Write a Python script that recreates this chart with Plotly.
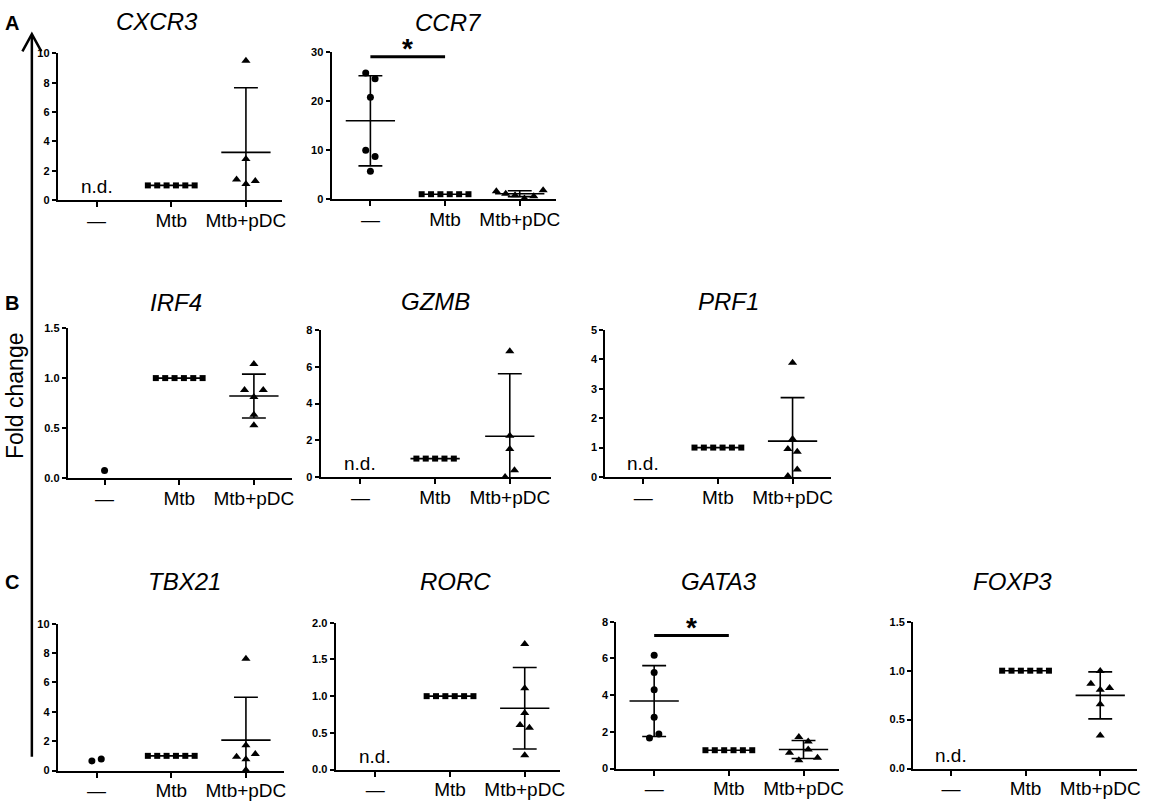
import plotly.graph_objects as go

W, H = 1158, 812
FONT = "Liberation Sans, Arial, sans-serif"

# -------------------- data -------------------- #
groups = ["—", "Mtb", "Mtb+pDC"]
genes = ["CXCR3", "CCR7", "IRF4", "GZMB", "PRF1", "TBX21", "RORC", "GATA3", "FOXP3"]
y_max = [10, 30, 1.5, 8, 5, 10, 2, 8, 1.5]
y_step = [2, 10, 0.5, 2, 1, 2, 0.5, 2, 0.5]

cxcr3_ctrl = []
cxcr3_mtb = [1.0, 1.0, 1.0, 1.0, 1.0, 1.0]
cxcr3_pdc = [9.5, 2.8, 1.4, 1.1, 1.3]
cxcr3_mean = [None, 1.0, 3.25]
cxcr3_sd = [None, 0.0, 4.4]

ccr7_ctrl = [25.75, 24.6, 20.8, 10.0, 8.7, 5.7]
ccr7_mtb = [1.0, 1.0, 1.0, 1.0, 1.0, 1.0]
ccr7_pdc = [1.6, 1.1, 0.8, 0.1, 0.6, 1.8]
ccr7_mean = [16.0, 1.0, 1.1]
ccr7_sd = [9.2, 0.0, 0.6]

irf4_ctrl = [0.075]
irf4_mtb = [1.0, 1.0, 1.0, 1.0, 1.0, 1.0]
irf4_pdc = [1.14, 0.88, 0.81, 0.88, 0.632, 0.527]
irf4_mean = [None, 1.0, 0.82]
irf4_sd = [None, 0.0, 0.22]

gzmb_ctrl = []
gzmb_mtb = [1.0, 1.0, 1.0, 1.0, 1.0]
gzmb_pdc = [6.85, 2.24, 1.52, 0.0, 0.36]
gzmb_mean = [None, 1.0, 2.22]
gzmb_sd = [None, 0.0, 3.4]

prf1_ctrl = []
prf1_mtb = [1.0, 1.0, 1.0, 1.0, 1.0, 1.0]
prf1_pdc = [3.89, 1.29, 0.95, 0.86, 0.03, 0.25]
prf1_mean = [None, 1.0, 1.22]
prf1_sd = [None, 0.0, 1.48]

tbx21_ctrl = [0.65, 0.79]
tbx21_mtb = [1.0, 1.0, 1.0, 1.0, 1.0, 1.0]
tbx21_pdc = [7.62, 1.72, 0.94, 0.76, 1.12, 0.04]
tbx21_mean = [None, 1.0, 2.07]
tbx21_sd = [None, 0.0, 2.92]

rorc_ctrl = []
rorc_mtb = [1.0, 1.0, 1.0, 1.0, 1.0, 1.0]
rorc_pdc = [1.71, 1.107, 0.77, 0.607, 0.571, 0.196]
rorc_mean = [None, 1.0, 0.835]
rorc_sd = [None, 0.0, 0.555]

gata3_ctrl = [6.17, 5.24, 4.29, 2.79, 1.66, 1.88]
gata3_mtb = [1.0, 1.0, 1.0, 1.0, 1.0, 1.0]
gata3_pdc = [1.72, 1.48, 0.86, 0.45, 1.04, 0.59]
gata3_mean = [3.68, 1.0, 1.04]
gata3_sd = [1.93, 0.0, 0.49]

foxp3_ctrl = []
foxp3_mtb = [1.0, 1.0, 1.0, 1.0, 1.0, 1.0]
foxp3_pdc = [0.997, 0.866, 0.805, 0.822, 0.658, 0.339]
foxp3_mean = [None, 1.0, 0.748]
foxp3_sd = [None, 0.0, 0.24]

# significance bars (gene, from group, to group, height)
sig_genes = ["CCR7", "GATA3"]
sig_from = [0, 0]
sig_to = [1, 1]
sig_y = [29.1, 7.25]

panel_data = [
    (cxcr3_ctrl, cxcr3_mtb, cxcr3_pdc, cxcr3_mean, cxcr3_sd),
    (ccr7_ctrl, ccr7_mtb, ccr7_pdc, ccr7_mean, ccr7_sd),
    (irf4_ctrl, irf4_mtb, irf4_pdc, irf4_mean, irf4_sd),
    (gzmb_ctrl, gzmb_mtb, gzmb_pdc, gzmb_mean, gzmb_sd),
    (prf1_ctrl, prf1_mtb, prf1_pdc, prf1_mean, prf1_sd),
    (tbx21_ctrl, tbx21_mtb, tbx21_pdc, tbx21_mean, tbx21_sd),
    (rorc_ctrl, rorc_mtb, rorc_pdc, rorc_mean, rorc_sd),
    (gata3_ctrl, gata3_mtb, gata3_pdc, gata3_mean, gata3_sd),
    (foxp3_ctrl, foxp3_mtb, foxp3_pdc, foxp3_mean, foxp3_sd),
]

# -------------------- layout geometry (pixels) -------------------- #
# y-axis x, first category x, x-axis end, top of y axis, y=0
panel_px = [
    (58, 97, 283, 48, 197),
    (333, 372, 558, 47, 196),
    (68, 105, 293, 327, 479),
    (322, 362, 553, 329, 478),
    (608, 646, 835, 329, 478),
    (58, 97, 285, 627, 776),
    (337, 377, 562, 626, 775),
    (619, 657, 843, 625, 774),
    (917, 955, 1142, 625, 774),
]
title_px = [(158, 16), (450, 17), (177, 301), (437, 300), (732, 300),
            (185, 584), (457, 584), (722, 584), (1017, 584)]
CAT_PX = 75.0
SYMBOLS = [("circle", 7), ("square", 6), ("triangle-up", 8)]


def swarm(vals, px_per_unit, gap=8.0, step=9.4 / CAT_PX):
    # GraphPad-like spreading: points closer than `gap` px get side by side
    order = sorted(range(len(vals)), key=lambda i: -vals[i])
    clusters = []
    for i in order:
        if clusters and (vals[clusters[-1][-1]] - vals[i]) * px_per_unit < gap:
            clusters[-1].append(i)
        else:
            clusters.append([i])
    offs = [0.0] * len(vals)
    for c in clusters:
        c = sorted(c)
        n = len(c)
        for k, i in enumerate(c):
            offs[i] = (k - (n - 1) / 2) * step
    return offs


fig = go.Figure()
annotations = []
layout_axes = {}

for k, gene in enumerate(genes):
    n = k + 1
    xa = "x" if n == 1 else f"x{n}"
    ya = "y" if n == 1 else f"y{n}"
    left, c0, right, top, bot = panel_px[k]
    ppu = (bot - top) / y_max[k]
    vals_by_group = panel_data[k][:3]
    means, sds = panel_data[k][3], panel_data[k][4]

    # mean +/- SD
    lx, ly = [], []
    for g in range(3):
        m, s = means[g], sds[g]
        if m is None:
            continue
        lx += [g - 0.33, g + 0.33, None]
        ly += [m, m, None]
        if s > 0:
            lx += [g, g, None, g - 0.16, g + 0.16, None, g - 0.16, g + 0.16, None]
            ly += [m - s, m + s, None, m + s, m + s, None, m - s, m - s, None]
    fig.add_trace(go.Scatter(x=lx, y=ly, mode="lines", xaxis=xa, yaxis=ya,
                             line=dict(color="black", width=1.6),
                             showlegend=False, hoverinfo="skip"))

    # points
    for g in range(3):
        vals = vals_by_group[g]
        if not vals:
            annotations.append(dict(x=g, y=0, xref=xa, yref=ya, text="n.d.",
                                    showarrow=False, yanchor="bottom", yshift=1,
                                    font=dict(size=19, family=FONT, color="black")))
            continue
        offs = swarm(vals, ppu)
        sym, size = SYMBOLS[g]
        fig.add_trace(go.Scatter(
            x=[g + o for o in offs], y=vals, mode="markers", xaxis=xa, yaxis=ya,
            marker=dict(symbol=sym, size=size, color="black", line=dict(width=0)),
            cliponaxis=False, showlegend=False, name=groups[g]))

    # significance
    if gene in sig_genes:
        j = sig_genes.index(gene)
        fig.add_trace(go.Scatter(x=[sig_from[j], sig_to[j]], y=[sig_y[j], sig_y[j]],
                                 mode="lines", xaxis=xa, yaxis=ya, cliponaxis=False,
                                 line=dict(color="black", width=3),
                                 showlegend=False, hoverinfo="skip"))
        annotations.append(dict(x=(sig_from[j] + sig_to[j]) / 2, y=sig_y[j],
                                xref=xa, yref=ya, text="<b>*</b>", showarrow=False,
                                yanchor="bottom", yshift=-9,
                                font=dict(size=28, family=FONT, color="black")))

    # title
    tx, ty = title_px[k]
    annotations.append(dict(x=tx / W, y=1 - ty / H, xref="paper", yref="paper",
                            text=f"<i>{gene}</i>", showarrow=False,
                            xanchor="center", yanchor="middle",
                            font=dict(size=24, family=FONT, color="black")))

    fmt = ".1f" if y_step[k] < 1 else "d"
    layout_axes["xaxis" if n == 1 else f"xaxis{n}"] = dict(
        domain=[left / W, right / W], anchor=ya,
        range=[(left - c0) / CAT_PX, (right - c0) / CAT_PX],
        tickmode="array", tickvals=[0, 1, 2], ticktext=groups,
        showline=True, linecolor="black", linewidth=2,
        ticks="outside", ticklen=5, tickwidth=2, tickcolor="black",
        ticklabelstandoff=-3,
        tickfont=dict(size=19, family=FONT, color="black"),
        showgrid=False, zeroline=False, fixedrange=True)
    layout_axes["yaxis" if n == 1 else f"yaxis{n}"] = dict(
        domain=[1 - bot / H, 1 - top / H], anchor=xa,
        range=[0, y_max[k]], tick0=0, dtick=y_step[k], tickformat=fmt,
        showline=True, linecolor="black", linewidth=2,
        ticks="outside", ticklen=4, tickwidth=1.5, tickcolor="black",
        tickfont=dict(size=11, family=FONT, color="black", weight="bold"),
        showgrid=False, zeroline=False, fixedrange=True)

# panel letters and shared y label
for letter, (lx_, ly_) in zip(["A", "B", "C"], [(12, 17), (12, 301), (12, 585)]):
    annotations.append(dict(x=lx_ / W, y=1 - ly_ / H, xref="paper", yref="paper",
                            text=f"<b>{letter}</b>", showarrow=False,
                            xanchor="center", yanchor="middle",
                            font=dict(size=20, family=FONT, color="black")))
annotations.append(dict(x=15 / W, y=1 - 395 / H, xref="paper", yref="paper",
                        text="Fold change", textangle=-90, showarrow=False,
                        xanchor="center", yanchor="middle",
                        font=dict(size=23, family=FONT, color="black")))


def px(x, y):
    return f"{x / W},{1 - y / H}"


shapes = [
    dict(type="line", xref="paper", yref="paper", x0=32 / W, x1=32 / W,
         y0=1 - 762 / H, y1=1 - 30 / H, line=dict(color="black", width=2.5)),
    dict(type="path", xref="paper", yref="paper",
         path=f"M {px(22.5, 46)} L {px(32, 28.5)} L {px(41.5, 46)}",
         line=dict(color="black", width=2.5)),
]

fig.update_layout(
    width=W, height=H, margin=dict(l=0, r=0, t=0, b=0),
    paper_bgcolor="white", plot_bgcolor="white",
    font=dict(family=FONT, color="black"),
    annotations=annotations, shapes=shapes, showlegend=False,
    **layout_axes)

# the page's default body margin would push the fixed-size figure off by 8 px
fig.write_html("out.html", config={"displayModeBar": False},
               post_script="document.body.style.margin='0';"
                           "document.body.style.overflow='hidden';")
